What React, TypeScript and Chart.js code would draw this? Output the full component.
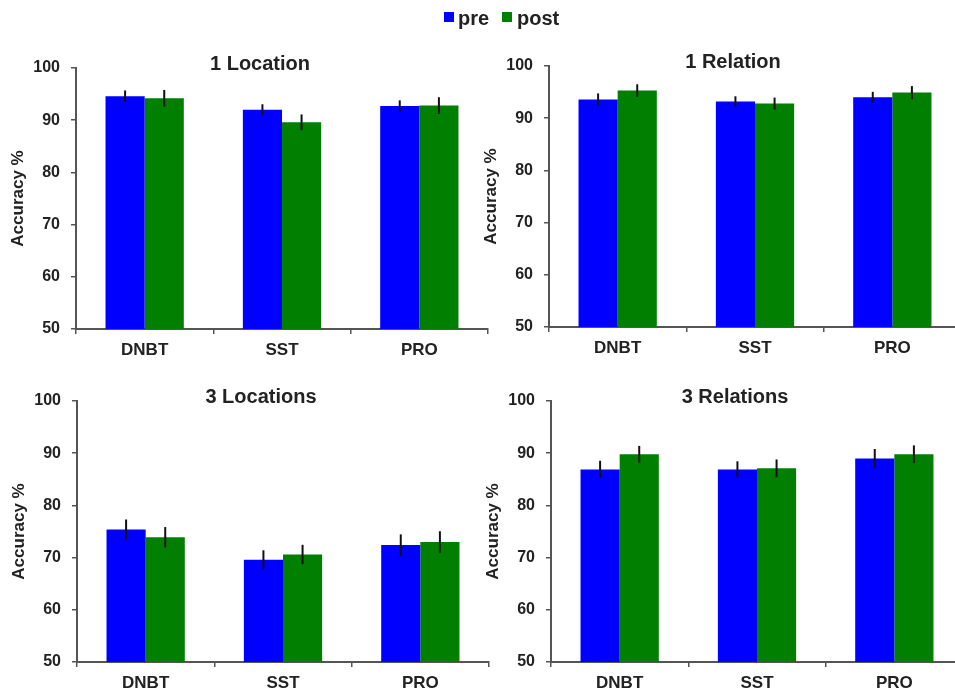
import React, { useEffect, useRef } from "react";
import { Chart, registerables } from "chart.js";

Chart.register(...registerables);

const categories = ["DNBT", "SST", "PRO"];
const seriesNames = ["pre", "post"];
const seriesColors = ["#0000FF", "#007F00"];
const yTicks = [50, 60, 70, 80, 90, 100];

const panelTitles = ["1 Location", "1 Relation", "3 Locations", "3 Relations"];

const loc1Pre = [94.6, 92.0, 92.7];
const loc1Post = [94.2, 89.6, 92.8];
const loc1PreErr = [1.1, 1.05, 1.1];
const loc1PostErr = [1.6, 1.5, 1.6];

const rel1Pre = [93.6, 93.2, 94.0];
const rel1Post = [95.3, 92.8, 94.9];
const rel1PreErr = [1.15, 1.0, 1.05];
const rel1PostErr = [1.2, 1.15, 1.25];

const loc3Pre = [75.4, 69.6, 72.4];
const loc3Post = [73.9, 70.6, 73.0];
const loc3PreErr = [1.9, 1.8, 2.05];
const loc3PostErr = [1.95, 1.85, 2.05];

const rel3Pre = [86.9, 86.9, 89.0];
const rel3Post = [89.8, 87.1, 89.8];
const rel3PreErr = [1.65, 1.55, 1.8];
const rel3PostErr = [1.6, 1.7, 1.7];

const FONT = "'Liberation Sans', Arial, sans-serif";
const AXIS = "#555555";
const TEXT = "#222222";

const panels = [
  { title: panelTitles[0], pre: loc1Pre, post: loc1Post, preErr: loc1PreErr, postErr: loc1PostErr, left: 0, top: 18 },
  { title: panelTitles[1], pre: rel1Pre, post: rel1Post, preErr: rel1PreErr, postErr: rel1PostErr, left: 473, top: 16 },
  { title: panelTitles[2], pre: loc3Pre, post: loc3Post, preErr: loc3PreErr, postErr: loc3PostErr, left: 1, top: 351 },
  { title: panelTitles[3], pre: rel3Pre, post: rel3Post, preErr: rel3PreErr, postErr: rel3PostErr, left: 475, top: 351 },
];

const errorBarPlugin = {
  id: "errorBars",
  afterDatasetsDraw(chart: any) {
    const ctx = chart.ctx;
    const yScale = chart.scales.y;
    ctx.save();
    ctx.strokeStyle = "#111111";
    ctx.lineWidth = 2;
    chart.data.datasets.forEach((ds: any, di: number) => {
      const meta = chart.getDatasetMeta(di);
      meta.data.forEach((el: any, i: number) => {
        const v = ds.data[i];
        const e = ds.errors[i];
        const yTop = yScale.getPixelForValue(v + e);
        const yBot = yScale.getPixelForValue(v - e);
        ctx.beginPath();
        ctx.moveTo(el.x, yTop);
        ctx.lineTo(el.x, yBot);
        ctx.stroke();
      });
    });
    ctx.restore();
  },
};

const panelTitlePlugin = {
  id: "panelTitle",
  afterDraw(chart: any, _args: any, opts: any) {
    const ctx = chart.ctx;
    ctx.save();
    ctx.font = `bold 20px ${FONT}`;
    ctx.fillStyle = TEXT;
    ctx.textAlign = "center";
    ctx.textBaseline = "middle";
    ctx.fillText(opts.text, chart.width / 2, chart.chartArea.top - 4);
    ctx.restore();
  },
};

function Panel({ p }: { p: any }) {
  const ref = useRef<HTMLCanvasElement | null>(null);
  useEffect(() => {
    if (!ref.current) return;
    const chart = new Chart(ref.current, {
      type: "bar",
      data: {
        labels: categories,
        datasets: [
          { label: seriesNames[0], data: p.pre, errors: p.preErr, backgroundColor: seriesColors[0] } as any,
          { label: seriesNames[1], data: p.post, errors: p.postErr, backgroundColor: seriesColors[1] } as any,
        ],
      },
      options: {
        animation: false,
        responsive: false,
        devicePixelRatio: 1,
        layout: { padding: { left: 0, right: 32, top: 50, bottom: 0 } },
        datasets: { bar: { barPercentage: 1, categoryPercentage: 0.57 } },
        plugins: {
          legend: { display: false },
          tooltip: { enabled: false },
          title: { display: false },
          panelTitle: { text: p.title },
        } as any,
        scales: {
          x: {
            grid: { display: true, drawOnChartArea: false, drawTicks: true, tickLength: 5, color: AXIS, lineWidth: 1.5, offset: true },
            border: { display: true, color: AXIS, width: 2 },
            ticks: { color: TEXT, font: { family: FONT, size: 17, weight: "bold" }, padding: 6, maxRotation: 0 },
            afterFit: (s: any) => { s.height = 36; },
          },
          y: {
            min: 50,
            max: 100,
            afterBuildTicks: (s: any) => { s.ticks = yTicks.map((v) => ({ value: v })); },
            grid: { display: true, drawOnChartArea: false, drawTicks: true, tickLength: 5, color: AXIS, lineWidth: 1.5 },
            border: { display: true, color: AXIS, width: 2 },
            ticks: { color: TEXT, font: { family: FONT, size: 16, weight: "bold" }, padding: 11 },
            title: { display: true, text: "Accuracy %", color: TEXT, font: { family: FONT, size: 17, weight: "bold" }, padding: { top: 8, bottom: 0 } },
            afterFit: (s: any) => { s.width = 76; },
          },
        },
      } as any,
      plugins: [errorBarPlugin, panelTitlePlugin],
    });
    return () => chart.destroy();
  }, []);
  return (
    <canvas
      ref={ref}
      width={520}
      height={347}
      style={{ position: "absolute", left: p.left, top: p.top, width: 520, height: 347 }}
    />
  );
}

export default function App() {
  return (
    <div style={{ position: "fixed", left: 0, top: 0, width: 955, height: 698, overflow: "hidden", background: "#fff" }}>
      {panels.map((p, i) => (
        <Panel key={i} p={p} />
      ))}
      <div style={{ position: "absolute", left: 444, top: 12, width: 10, height: 10, background: seriesColors[0], zIndex: 2 }} />
      <div style={{ position: "absolute", left: 458, top: 8, font: `bold 20px ${FONT}`, lineHeight: "20px", color: TEXT, zIndex: 2 }}>{seriesNames[0]}</div>
      <div style={{ position: "absolute", left: 502, top: 12, width: 10, height: 10, background: seriesColors[1], zIndex: 2 }} />
      <div style={{ position: "absolute", left: 517, top: 8, font: `bold 20px ${FONT}`, lineHeight: "20px", color: TEXT, zIndex: 2 }}>{seriesNames[1]}</div>
    </div>
  );
}
